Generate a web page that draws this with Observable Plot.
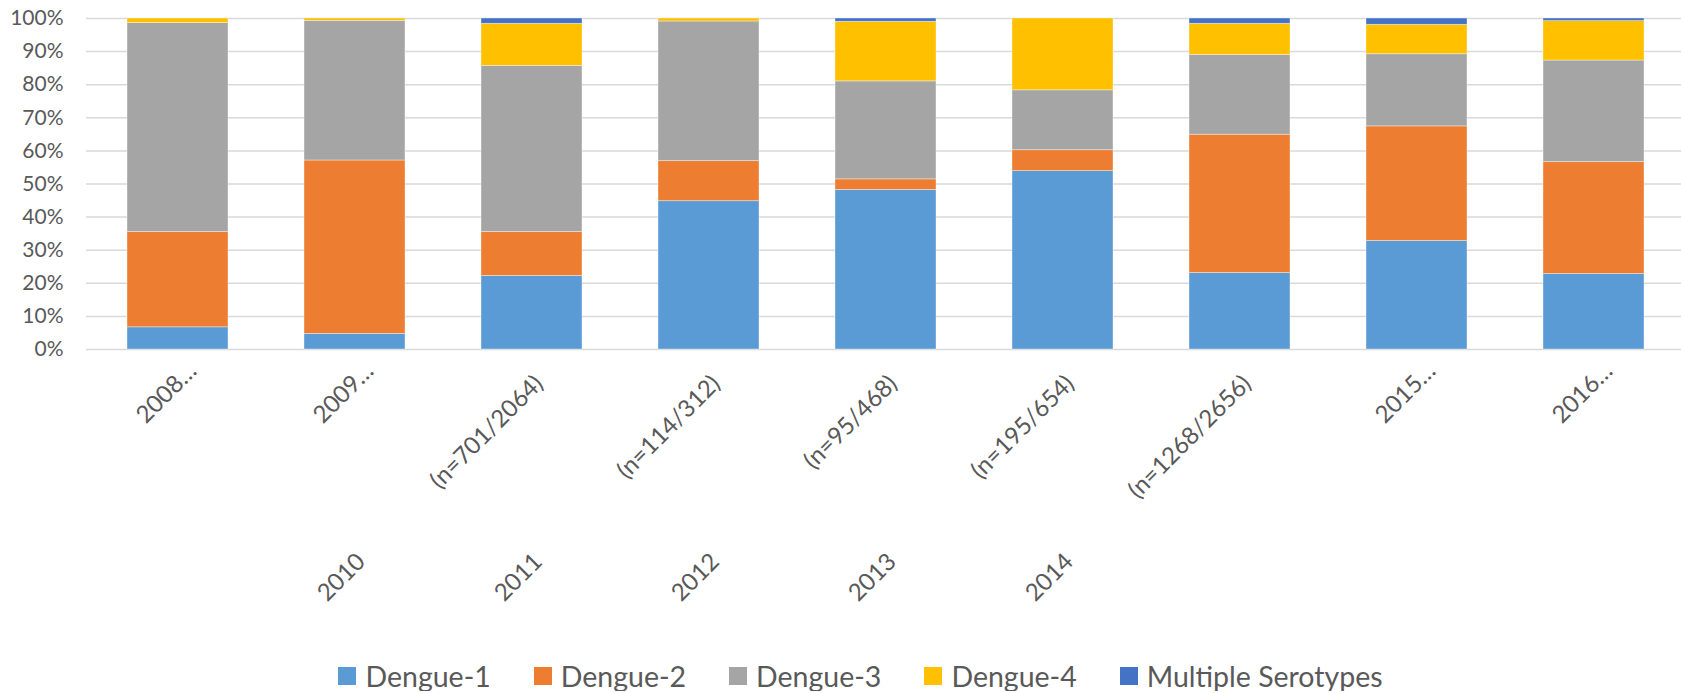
<!DOCTYPE html>
<html>
<head>
<meta charset="utf-8">
<script src="https://cdn.jsdelivr.net/npm/d3@7"></script>
<script src="https://cdn.jsdelivr.net/npm/@observablehq/plot@0.6"></script>
<style>
  html, body { margin: 0; padding: 0; background: #fff; }
  #chart svg { display: block; }
  #legend { display: flex; justify-content: center; padding-left: 40px; gap: 43px;
    font-family: Lato, sans-serif; font-size: 28.5px; line-height: 30px; color: #595959; margin-top: 11px; }
  #legend .item { display: flex; align-items: center; gap: 9px; }
  #legend .sw { width: 18px; height: 18px; display: inline-block; }
</style>
</head>
<body>
<div id="chart"></div>
<div id="legend"></div>
<script>
// Categories (x axis)
const categories = ["2008", "2009", "2010", "2011", "2012", "2013", "2014", "2015", "2016"];
// Visible label text
const yearLabels = ["2008…", "2009…", "2010", "2011", "2012", "2013", "2014", "2015…", "2016…"];
const sampleLabels = ["", "", "(n=701/2064)", "(n=114/312)", "(n=95/468)", "(n=195/654)", "(n=1268/2656)", "", ""];

// Series (percent of isolates)
const serotypes = ["Dengue-1", "Dengue-2", "Dengue-3", "Dengue-4", "Multiple Serotypes"];
const dengue1  = [6.7, 4.7, 22.2, 44.8, 48.2, 53.9, 23.1, 32.8, 22.8];
const dengue2  = [28.8, 52.4, 13.3, 12.1, 3.2, 6.3, 41.8, 34.6, 33.8];
const dengue3  = [63.1, 42.2, 50.2, 42.2, 29.6, 18.1, 24.1, 21.8, 30.7];
const dengue4  = [1.4, 0.7, 12.7, 0.9, 18.0, 21.7, 9.4, 8.9, 11.9];
const multiple = [0, 0, 1.6, 0, 1.0, 0, 1.6, 1.9, 0.8];
const colors = ["#5B9BD5", "#ED7D31", "#A5A5A5", "#FFC000", "#4472C4"];

// Y ticks
const yTicks = [0, 10, 20, 30, 40, 50, 60, 70, 80, 90, 100];

const seriesValues = [dengue1, dengue2, dengue3, dengue4, multiple];
const data = [];
serotypes.forEach((s, si) => {
  categories.forEach((c, ci) => data.push({cat: c, serotype: s, value: seriesValues[si][ci]}));
});
const labels = categories.map((c, i) => ({cat: c, year: yearLabels[i], sample: sampleLabels[i]}));
const singles = labels.filter(d => d.sample === "");
const doubles = labels.filter(d => d.sample !== "");

const W = 1681, H = 650;
const textColor = "#595959";
const along = 178; // offset of the year along the rotated baseline

const chart = Plot.plot({
  width: W,
  height: H,
  marginLeft: 86,
  marginRight: 0,
  marginTop: 18,
  marginBottom: 301,
  style: {fontFamily: "Lato, sans-serif", color: textColor, background: "#fff"},
  x: {domain: categories, range: [86, 1685], paddingInner: 0.43, paddingOuter: 0.215, axis: null},
  y: {domain: [0, 100], axis: null},
  color: {domain: serotypes, range: colors},
  marks: [
    Plot.gridY(yTicks, {stroke: "#d9d9d9", strokeOpacity: 1, strokeWidth: 1.5}),
    Plot.axisY(yTicks, {tickFormat: d => d + "%", tickSize: 0, tickPadding: 23, fontSize: 21, fill: textColor, label: null}),
    Plot.barY(data, {x: "cat", y: "value", fill: "serotype", order: serotypes, stroke: "#fff", strokeWidth: 0.75, strokeOpacity: 0.5}),
    Plot.text(singles, {x: "cat", text: "year", frameAnchor: "bottom", rotate: -45, textAnchor: "end", lineAnchor: "bottom", dx: 20, dy: 23, fontSize: 24, fill: textColor}),
    Plot.text(doubles, {x: "cat", text: "sample", frameAnchor: "bottom", rotate: -45, textAnchor: "end", lineAnchor: "bottom", dx: 12.6, dy: 35.6, fontSize: 24, fill: textColor}),
    Plot.text(doubles, {x: "cat", text: "year", frameAnchor: "bottom", rotate: -45, textAnchor: "end", lineAnchor: "bottom", dx: 12.6 - along, dy: 35.6 + along, fontSize: 24, fill: textColor})
  ]
});
document.getElementById("chart").appendChild(chart);

const legend = document.getElementById("legend");
serotypes.forEach((s, i) => {
  const item = document.createElement("span");
  item.className = "item";
  const sw = document.createElement("span");
  sw.className = "sw";
  sw.style.background = colors[i];
  item.appendChild(sw);
  item.appendChild(document.createTextNode(s));
  legend.appendChild(item);
});
</script>
</body>
</html>
